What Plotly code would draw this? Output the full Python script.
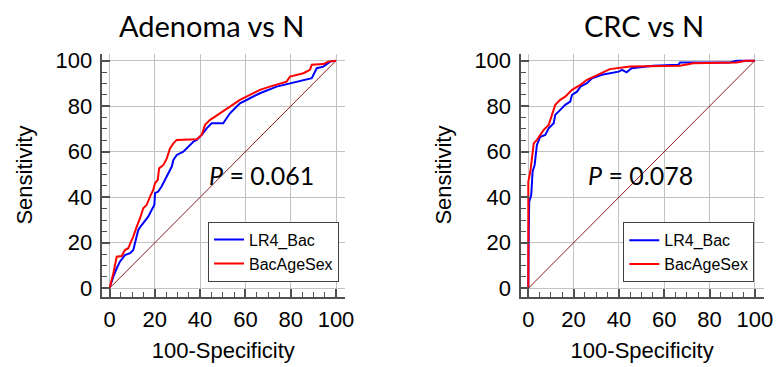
import plotly.graph_objects as go

# ---------------- data ----------------
ticks = [0, 20, 40, 60, 80, 100]
tick_labels = ["0", "20", "40", "60", "80", "100"]

titles = ["Adenoma vs N", "CRC vs N"]
p_texts = ["<i>P</i> = 0.061", "<i>P</i> = 0.078"]
series_names = ["LR4_Bac", "BacAgeSex"]

# Adenoma vs N
aden_lr4_x = [0, 0.2, 1.7, 3.2, 4.6, 6.8, 9.1, 10.5, 11.3, 12.0, 12.7, 14.2, 15.7, 17.1, 18.6, 19.8,
              20.1, 21.5, 23.0, 24.5, 26.0, 27.5, 28.2, 29.7, 32.6, 34.8, 37.0, 38.5, 40.7, 42.9, 45.1,
              50.2, 51.7, 53.2, 55.4, 57.6, 62.0, 66.4, 73.8, 79.7, 89.3, 91.5, 94.4, 97.4, 100]
aden_lr4_y = [0, 0.7, 5.1, 8.8, 11.7, 14.6, 15.4, 16.8, 19.8, 22.7, 25.6, 27.8, 30.0, 31.5, 34.4, 36.6,
              41.8, 42.5, 44.7, 47.6, 50.5, 53.5, 56.4, 58.6, 60.0, 62.2, 64.4, 65.2, 67.4, 70.3, 72.5,
              72.5, 74.7, 76.9, 79.1, 81.3, 83.5, 85.7, 88.6, 90.1, 92.3, 96.7, 97.4, 99.6, 100]
aden_bas_x = [0, 0.2, 1.7, 3.2, 5.4, 6.8, 8.3, 9.5, 10.5, 12.0, 13.5, 14.9, 16.4, 17.9, 19.3, 20.1,
              21.3, 21.9, 23.8, 25.3, 26.0, 26.7, 28.2, 29.7, 38.5, 40.7, 42.2, 44.4, 46.6, 48.8, 51.0,
              54.0, 57.6, 62.0, 66.4, 70.8, 73.8, 78.2, 79.7, 82.6, 85.6, 88.5, 89.3, 94.4, 96.6, 100]
aden_bas_y = [0, 0.7, 6.6, 13.9, 14.2, 16.8, 17.6, 20.5, 22.7, 27.1, 30.8, 35.2, 36.6, 40.3, 43.2, 46.2,
              47.6, 52.7, 54.2, 57.1, 59.3, 61.5, 63.7, 65.2, 65.5, 67.4, 71.8, 74.0, 75.4, 76.9, 78.4,
              80.6, 82.8, 85.0, 87.2, 88.6, 89.4, 90.8, 93.0, 93.8, 94.5, 96.0, 98.2, 98.5, 99.6, 100]

# CRC vs N
crc_lr4_x = [0, 0.0, 0.2, 0.4, 1.3, 1.9, 2.8, 3.8, 5.3, 7.5, 9.0, 11.2, 11.9, 14.1, 16.3, 18.5, 19.3,
             21.5, 23.0, 25.9, 28.1, 32.5, 37.0, 39.9, 41.4, 43.4, 45.6, 55.2, 66.2, 67.0, 89.0, 92.0, 100]
crc_lr4_y = [0, 15.0, 24.9, 38.1, 41.0, 51.3, 54.2, 63.0, 66.6, 67.4, 70.3, 72.5, 76.2, 78.4, 80.6, 82.0,
             85.0, 86.4, 88.6, 90.1, 92.3, 93.8, 94.5, 95.2, 96.0, 94.9, 96.7, 97.8, 98.2, 99.2, 99.2, 100, 100]
crc_bas_x = [0, 0.0, 0.9, 1.6, 2.4, 3.8, 5.3, 6.8, 9.0, 10.5, 11.9, 14.1, 16.3, 19.3, 23.0, 25.9, 28.9,
             31.8, 36.0, 44.9, 67.0, 72.8, 92.0, 96.0, 100]
crc_bas_y = [0, 46.9, 51.3, 57.1, 63.7, 65.2, 67.4, 69.6, 71.8, 76.2, 80.6, 82.8, 84.2, 87.2, 89.4, 91.6, 93.0,
             94.5, 96.3, 97.4, 97.8, 98.9, 99.2, 100, 100]

ref_line = [0, 100]

# ---------------- figure ----------------
W, H = 777, 367
AX_FONT = "Liberation Sans, Arial, sans-serif"
TITLE_FONT = "Lato, Carlito, Calibri, sans-serif"
BLUE = "#0000ff"
RED = "#ff0000"


def fx(px):
    return px / W


def fy(py):
    return 1 - py / H


fig = go.Figure()

panels = [
    (aden_lr4_x, aden_lr4_y, aden_bas_x, aden_bas_y, "x", "y", "legend"),
    (crc_lr4_x, crc_lr4_y, crc_bas_x, crc_bas_y, "x2", "y2", "legend2"),
]
for bx, by, rx, ry, xa, ya, lg in panels:
    fig.add_trace(go.Scatter(x=ref_line, y=ref_line, mode="lines", xaxis=xa, yaxis=ya,
                             line=dict(color="#8b1c1c", width=1), showlegend=False,
                             hoverinfo="skip"))
    fig.add_trace(go.Scatter(x=bx, y=by, mode="lines", name=series_names[0], xaxis=xa, yaxis=ya,
                             line=dict(color=BLUE, width=2), legend=lg))
    fig.add_trace(go.Scatter(x=rx, y=ry, mode="lines", name=series_names[1], xaxis=xa, yaxis=ya,
                             line=dict(color=RED, width=2), legend=lg))

px_per = 243.3 / 107.4
xr = [-7.8 / px_per, 100 + 9.0 / px_per]
yr = [-8.4 / 2.275, 100 + 7.2 / 2.275]

y_dom = [fy(296.7), fy(53.5)]
x_doms = [[fx(101.7), fx(345.0)], [fx(520.5), fx(763.8)]]

common = dict(
    tickmode="array", tickvals=ticks, ticktext=tick_labels,
    ticks="inside", ticklen=8, tickwidth=1.5, tickcolor="#505050",
    showgrid=True, gridcolor="#c2c2c2", gridwidth=1.2,
    zeroline=False, showline=True, linecolor="#505050", linewidth=2,
    tickfont=dict(family=AX_FONT, size=22, color="#000000"),
    minor=dict(dtick=5, tick0=0, ticks="inside", ticklen=5, tickwidth=1, tickcolor="#505050",
               showgrid=False),
    fixedrange=True, automargin=False,
)

for i, xd in enumerate(x_doms):
    sfx = "" if i == 0 else str(i + 1)
    fig.update_layout(**{
        "xaxis" + sfx: dict(common, domain=xd, range=xr, anchor="y" + sfx,
                            ticklabelstandoff=2,
                            title=dict(text="100-Specificity", standoff=12,
                                       font=dict(family=AX_FONT, size=22, color="#000000"))),
        "yaxis" + sfx: dict(common, domain=y_dom, range=yr, anchor="x" + sfx,
                            ticklabelstandoff=3,
                            title=dict(text="Sensitivity", standoff=17,
                                       font=dict(family=AX_FONT, size=22, color="#000000"))),
    })

# panel titles
title_x = [fx(211.5), fx(644.0)]
for t, tx in zip(titles, title_x):
    fig.add_annotation(text=t, x=tx, y=fy(25.5), xref="paper", yref="paper",
                       xanchor="center", yanchor="middle", showarrow=False,
                       font=dict(family=TITLE_FONT, size=29, color="#000000"))

# P-value annotations
p_pos = [(67.3, 49.8, "x", "y"), (49.5, 49.8, "x2", "y2")]
for txt, (px_, py_, xa, ya) in zip(p_texts, p_pos):
    fig.add_annotation(text=txt, x=px_, y=py_, xref=xa, yref=ya, xanchor="center",
                       yanchor="middle", showarrow=False,
                       font=dict(family=TITLE_FONT, size=25, color="#000000"))

legend_common = dict(
    bgcolor="#ffffff", bordercolor="#404040", borderwidth=1,
    font=dict(family=AX_FONT, size=16, color="#000000"),
    xanchor="right", yanchor="top", itemwidth=30, tracegroupgap=0,
    xref="paper", yref="paper",
)
fig.update_layout(
    width=W, height=H,
    margin=dict(l=0, r=0, t=0, b=0),
    paper_bgcolor="#ffffff", plot_bgcolor="#ffffff",
    showlegend=True,
    legend=dict(legend_common, x=fx(339), y=fy(221.7)),
    legend2=dict(legend_common, x=fx(754.3), y=fy(222.3)),
)

fig.write_html(
    "out.html",
    config={"displayModeBar": False},
    post_script="document.body.style.margin='0';document.body.style.overflow='hidden';",
)
